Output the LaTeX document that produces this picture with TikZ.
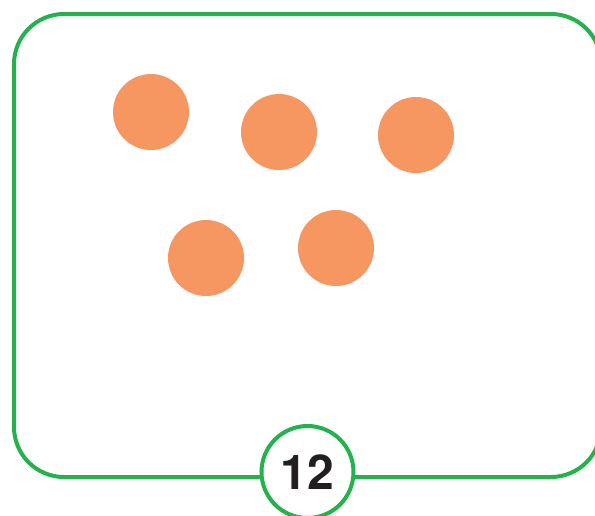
\documentclass[tikz,border=0pt]{standalone}
\usepackage{fontspec}
\setmainfont{TeX Gyre Heros}
\definecolor{frgreen}{HTML}{23B24B}
\definecolor{dotorange}{HTML}{F69762}
\definecolor{numdark}{HTML}{231F20}
\begin{document}
\begin{tikzpicture}[x=1pt,y=-1pt,
  dot/.style={circle,fill=dotorange,minimum size=76pt,inner sep=0pt},
  frame/.style={draw=frgreen,line width=4pt,rounded corners=50pt}]
\useasboundingbox (0,0) rectangle (595,515);
\draw[frame] (14,14) rectangle (601,477);
\node[dot] (d1) at (151,112) {};
\node[dot] (d2) at (279,132) {};
\node[dot] (d3) at (416,135) {};
\node[dot] (d4) at (206,258) {};
\node[dot] (d5) at (336,248) {};
\node[circle,draw=frgreen,line width=4pt,fill=white,minimum size=92pt,inner sep=0pt,
  font=\fontsize{48}{48}\selectfont\bfseries,text=numdark] (num) at (307.5,472) {12};
\end{tikzpicture}
\end{document}
